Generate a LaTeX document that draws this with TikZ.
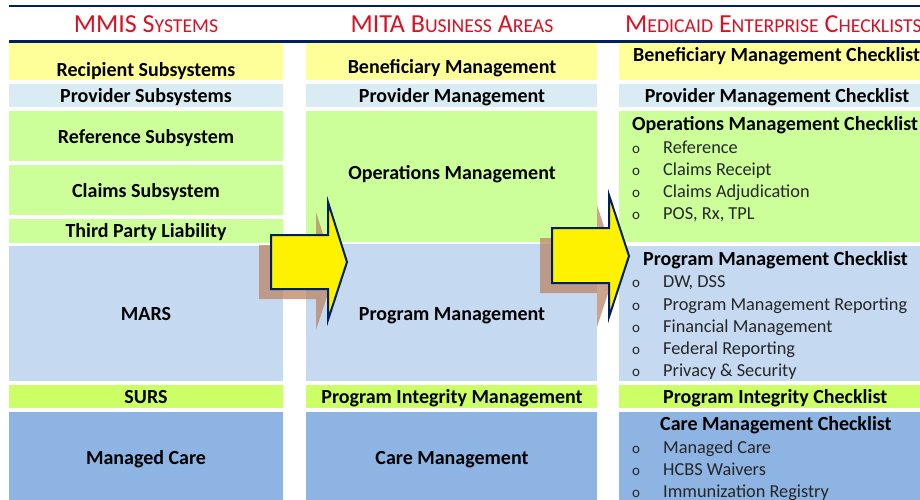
\documentclass[tikz,border=0pt]{standalone}
\usepackage{fontspec}
\setmainfont{Carlito}
\definecolor{navy}{RGB}{0,32,96}
\definecolor{hdred}{RGB}{215,18,38}
\definecolor{cyellow}{RGB}{255,255,153}
\definecolor{cpale}{RGB}{218,236,243}
\definecolor{cgreen}{RGB}{204,255,153}
\definecolor{cblue}{RGB}{197,217,241}
\definecolor{clime}{RGB}{204,255,102}
\definecolor{cdeep}{RGB}{141,180,226}
\definecolor{shade}{RGB}{185,130,95}
\newcommand\smc[1]{{\fontsize{19.7}{19.7}\selectfont #1}}
\tikzset{
  cell/.style={anchor=north west, inner sep=0pt, outer sep=0pt, draw=none},
  hdr/.style={text=hdred, font=\fontsize{26}{26}\selectfont, inner sep=0pt, anchor=base},
  lbl/.style={font=\bfseries\fontsize{20}{20}\selectfont, inner sep=0pt, anchor=base},
  lblw/.style={lbl, anchor=base west},
  itm/.style={font=\fontsize{18.3}{18.3}\selectfont, inner sep=0pt, anchor=base west, text=black!85},
  bul/.style={font=\fontsize{15}{15}\selectfont, inner sep=0pt, anchor=base, text=black!85},
  blockarrow/.style={fill=yellow, draw=navy, line width=2pt, line join=miter},
  arrowshadow/.style={fill=shade, fill opacity=0.72, draw=none},
}
\begin{document}
\begin{tikzpicture}[x=1pt,y=-1pt]
\useasboundingbox (0,0) rectangle (920,499);
\fill[white] (0,0) rectangle (920,499);

% header rules
\draw[navy, line width=2pt] (9,6) -- (925,6);
\draw[navy, line width=3pt] (9,41) -- (925,41);

% column headings
\node[hdr] (h1) at (146,32) {MMIS S\smc{YSTEMS}};
\node[hdr] (h2) at (452,32) {MITA B\smc{USINESS} A\smc{REAS}};
\node[hdr, anchor=base west] (h3) at (625,32) {M\smc{EDICAID} E\smc{NTERPRISE} C\smc{HECKLISTS}};

% MMIS systems column
\node[cell, fill=cyellow, minimum width=274pt, minimum height=37pt] (a1) at (9,43) {};
\node[cell, fill=cpale,   minimum width=274pt, minimum height=23pt] (a2) at (9,84) {};
\node[cell, fill=cgreen,  minimum width=274pt, minimum height=50pt] (a3) at (9,111) {};
\node[cell, fill=cgreen,  minimum width=274pt, minimum height=50pt] (a4) at (9,165) {};
\node[cell, fill=cgreen,  minimum width=274pt, minimum height=24pt] (a5) at (9,219) {};
\node[cell, fill=cblue,   minimum width=274pt, minimum height=135pt] (a6) at (9,246) {};
\node[cell, fill=clime,   minimum width=274pt, minimum height=23pt] (a7) at (9,385) {};
\node[cell, fill=cdeep,   minimum width=274pt, minimum height=90pt] (a8) at (9,412) {};

% MITA business areas column
\node[cell, fill=cyellow, minimum width=291pt, minimum height=37pt] (b1) at (306,43) {};
\node[cell, fill=cpale,   minimum width=291pt, minimum height=23pt] (b2) at (306,84) {};
\node[cell, fill=cgreen,  minimum width=291pt, minimum height=131pt] (b3) at (306,111) {};
\node[cell, fill=cblue,   minimum width=291pt, minimum height=137pt] (b4) at (306,244) {};
\node[cell, fill=clime,   minimum width=291pt, minimum height=23pt] (b5) at (306,385) {};
\node[cell, fill=cdeep,   minimum width=291pt, minimum height=90pt] (b6) at (306,412) {};

% checklist column
\node[cell, fill=cyellow, minimum width=310pt, minimum height=37pt] (c1) at (619,43) {};
\node[cell, fill=cpale,   minimum width=310pt, minimum height=23pt] (c2) at (619,84) {};
\node[cell, fill=cgreen,  minimum width=310pt, minimum height=131pt] (c3) at (619,111) {};
\node[cell, fill=cblue,   minimum width=310pt, minimum height=135pt] (c4) at (619,246) {};
\node[cell, fill=clime,   minimum width=310pt, minimum height=23pt] (c5) at (619,385) {};
\node[cell, fill=cdeep,   minimum width=310pt, minimum height=90pt] (c6) at (619,412) {};

% block arrows with their drop shadows
\fill[arrowshadow, shift={(-12,10)}] (271,235) -- (328,235) -- (328,202) -- (347,262) -- (328,320) -- (328,289) -- (271,289) -- cycle;
\fill[arrowshadow, shift={(-12,10)}] (552,228) -- (609,228) -- (609,195) -- (629,256) -- (609,317) -- (609,283) -- (552,283) -- cycle;
\path[blockarrow] (271,235) -- (328,235) -- (328,202) -- (347,262) -- (328,320) -- (328,289) -- (271,289) -- cycle;
\path[blockarrow] (552,228) -- (609,228) -- (609,195) -- (629,256) -- (609,317) -- (609,283) -- (552,283) -- cycle;

% MMIS labels
\node[lbl] (ta1) at (146,76) {Recipient Subsystems};
\node[lbl] (ta2) at (146,102) {Provider Subsystems};
\node[lbl] (ta3) at (146,143) {Reference Subsystem};
\node[lbl] (ta4) at (146,197) {Claims Subsystem};
\node[lbl] (ta5) at (146,237) {Third Party Liability};
\node[lbl] (ta6) at (146,320) {MARS};
\node[lbl] (ta7) at (146,403) {SURS};
\node[lbl] (ta8) at (146,464) {Managed Care};

% MITA labels
\node[lbl] (tb1) at (452,73) {Beneficiary Management};
\node[lbl] (tb2) at (452,102) {Provider Management};
\node[lbl] (tb3) at (452,179) {Operations Management};
\node[lbl] (tb4) at (452,320) {Program Management};
\node[lbl] (tb5) at (452,403) {Program Integrity Management};
\node[lbl] (tb6) at (452,464) {Care Management};

% checklist labels
\node[lblw] (tc1) at (633,61) {Beneficiary Management Checklist};
\node[lbl]  (tc2) at (777,102) {Provider Management Checklist};
\node[lblw] (tc3) at (632,130) {Operations Management Checklist};
\node[lblw] (tc4) at (643,265) {Program Management Checklist};
\node[lblw] (tc5) at (663,403) {Program Integrity Checklist};
\node[lblw] (tc6) at (660,430) {Care Management Checklist};

% checklist items
\foreach \y/\t [count=\i] in {153/Reference, 175/Claims Receipt, 197/Claims Adjudication, 219/{POS, Rx, TPL}}{
  \node[bul] (ob\i) at (636,\y) {o};
  \node[itm] (oi\i) at (663,\y) {\t};
}
\foreach \y/\t [count=\i] in {287/{DW, DSS}, 310/Program Management Reporting, 332/Financial Management, 354/Federal Reporting, 376/Privacy \& Security}{
  \node[bul] (pb\i) at (636,\y) {o};
  \node[itm] (pi\i) at (663,\y) {\t};
}
\foreach \y/\t [count=\i] in {453/Managed Care, 475/HCBS Waivers, 497/Immunization Registry}{
  \node[bul] (cb\i) at (636,\y) {o};
  \node[itm] (ci\i) at (663,\y) {\t};
}
\end{tikzpicture}
\end{document}
